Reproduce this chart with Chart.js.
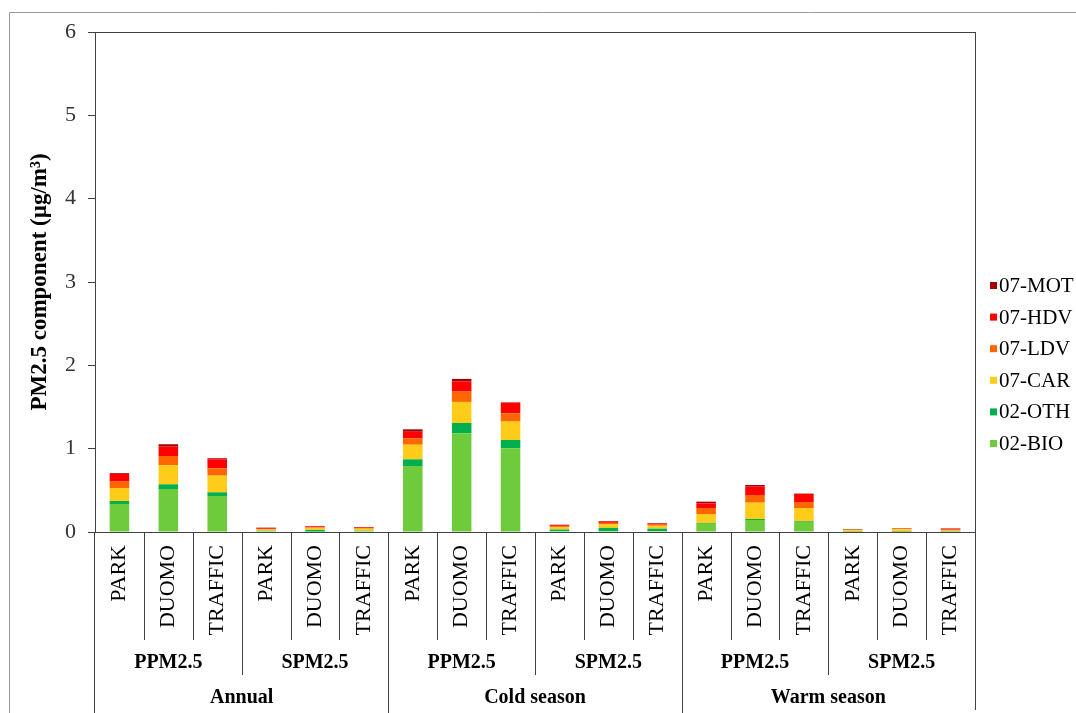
<!DOCTYPE html>
<html>
<head>
<meta charset="utf-8">
<title>PM2.5 component</title>
<script src="https://cdn.jsdelivr.net/npm/chart.js@4.4.0/dist/chart.umd.min.js"></script>
<style>
  body { margin: 0; background: #fff; }
  canvas { display: block; }
</style>
</head>
<body>
<canvas id="grafico" width="1076" height="713"></canvas>
<script>
//DADOS
const sites = ["PARK", "DUOMO", "TRAFFIC", "PARK", "DUOMO", "TRAFFIC",
  "PARK", "DUOMO", "TRAFFIC", "PARK", "DUOMO", "TRAFFIC",
  "PARK", "DUOMO", "TRAFFIC", "PARK", "DUOMO", "TRAFFIC"];
const grupos = ["PPM2.5", "SPM2.5", "PPM2.5", "SPM2.5", "PPM2.5", "SPM2.5"];
const estacoes = ["Annual", "Cold season", "Warm season"];
const yTicks = [0, 1, 2, 3, 4, 5, 6];

const bio = [0.336, 0.516, 0.432, 0.010, 0.005, 0.010, 0.792, 1.185, 1.005, 0.010, 0.010, 0.010, 0.096, 0.144, 0.120, 0.003, 0.003, 0.003];
const oth = [0.036, 0.056, 0.044, 0.005, 0.020, 0.005, 0.080, 0.124, 0.100, 0.020, 0.040, 0.030, 0.008, 0.012, 0.008, 0.003, 0.005, 0.003];
const car = [0.156, 0.232, 0.200, 0.015, 0.025, 0.025, 0.175, 0.252, 0.220, 0.030, 0.045, 0.035, 0.112, 0.196, 0.160, 0.015, 0.025, 0.012];
const ldv = [0.076, 0.108, 0.089, 0.008, 0.008, 0.008, 0.077, 0.124, 0.100, 0.010, 0.015, 0.013, 0.072, 0.092, 0.072, 0.008, 0.008, 0.010];
const hdv = [0.092, 0.112, 0.108, 0.010, 0.010, 0.008, 0.079, 0.120, 0.127, 0.012, 0.015, 0.015, 0.056, 0.100, 0.096, 0.005, 0.005, 0.014];
const mot = [0.010, 0.029, 0.012, 0.004, 0.004, 0.004, 0.029, 0.032, 0.005, 0.005, 0.007, 0.005, 0.020, 0.020, 0.005, 0.002, 0.002, 0.002];

const series = [
  { label: "02-BIO", data: bio, cor: "#6dcb3c" },
  { label: "02-OTH", data: oth, cor: "#00b050" },
  { label: "07-CAR", data: car, cor: "#ffcc1a" },
  { label: "07-LDV", data: ldv, cor: "#ff6600" },
  { label: "07-HDV", data: hdv, cor: "#ff0000" },
  { label: "07-MOT", data: mot, cor: "#a50000" },
];

const serif = "'Liberation Serif', 'Times New Roman', serif";
const corEixo = "#404040";

//PLUGIN: moldura, separadores, rótulos de grupo e legenda
const extras = {
  id: "extras",
  afterDraw(chart) {
    const ctx = chart.ctx;
    const area = chart.chartArea;
    const x = chart.scales.x;
    const n = sites.length;
    const passo = (area.right - area.left) / n;
    const H = chart.height;

    ctx.save();
    // borda externa cinza
    ctx.strokeStyle = "#9a9a9a";
    ctx.lineWidth = 1;
    ctx.beginPath();
    ctx.moveTo(9.5, H);
    ctx.lineTo(9.5, 12.5);
    ctx.lineTo(chart.width, 12.5);
    ctx.stroke();

    // moldura do gráfico
    ctx.strokeStyle = corEixo;
    ctx.beginPath();
    ctx.moveTo(area.left, area.top + 0.5);
    ctx.lineTo(area.right, area.top + 0.5);
    ctx.moveTo(area.right + 0.5, area.top);
    ctx.lineTo(area.right + 0.5, H - 3);
    ctx.moveTo(area.left - 0.5, area.bottom);
    ctx.lineTo(area.left - 0.5, H);
    ctx.stroke();

    // separadores das categorias
    ctx.beginPath();
    for (let i = 1; i < n; i++) {
      const px = Math.round(x.getPixelForValue(i) - passo / 2) + 0.5;
      let fim = area.bottom + 108;
      if (i % 6 === 0) fim = H;
      else if (i % 3 === 0) fim = area.bottom + 143;
      ctx.moveTo(px, area.bottom);
      ctx.lineTo(px, fim);
    }
    ctx.stroke();

    // rótulos de grupo e estação
    ctx.fillStyle = "#000";
    ctx.textAlign = "center";
    ctx.textBaseline = "middle";
    ctx.font = "bold 20px " + serif;
    grupos.forEach((g, k) => {
      const cx = (x.getPixelForValue(k * 3) + x.getPixelForValue(k * 3 + 2)) / 2;
      ctx.fillText(g, cx, area.bottom + 131);
    });
    estacoes.forEach((e, k) => {
      const cx = (x.getPixelForValue(k * 6) + x.getPixelForValue(k * 6 + 5)) / 2;
      ctx.fillText(e, cx, area.bottom + 166);
    });

    // legenda (ordem inversa)
    ctx.font = "21px " + serif;
    ctx.textAlign = "left";
    const ds = chart.data.datasets.slice().reverse();
    ds.forEach((d, k) => {
      const cy = 285.5 + k * 31.6;
      ctx.fillStyle = d.backgroundColor;
      ctx.fillRect(990, cy - 3.5, 7, 7);
      ctx.fillStyle = "#000";
      ctx.fillText(d.label, 999, cy + 1);
    });
    ctx.restore();
  },
};

//GRÁFICO
const ctxGrafico = document.getElementById("grafico");
const grafico = new Chart(ctxGrafico, {
  type: "bar",
  data: {
    labels: sites,
    datasets: series.map((s) => ({
      label: s.label,
      data: s.data,
      backgroundColor: s.cor,
      borderWidth: 0,
      barPercentage: 0.4,
      categoryPercentage: 1,
    })),
  },
  options: {
    responsive: false,
    animation: false,
    layout: { padding: { left: 10, top: 32, right: 101, bottom: 0 } },
    plugins: {
      legend: { display: false },
      tooltip: { enabled: false },
    },
    scales: {
      x: {
        stacked: true,
        grid: { display: false, drawTicks: false },
        border: { display: true, color: corEixo },
        ticks: {
          autoSkip: false,
          minRotation: 90,
          maxRotation: 90,
          padding: 13,
          color: "#000",
          font: { family: serif, size: 22 },
        },
        afterFit: (scale) => { scale.height = 181; },
      },
      y: {
        stacked: true,
        min: 0,
        max: 6,
        afterBuildTicks: (scale) => { scale.ticks = yTicks.map((v) => ({ value: v })); },
        grid: { drawOnChartArea: false, drawTicks: true, tickLength: 7, color: corEixo },
        border: { display: true, color: corEixo },
        ticks: {
          padding: 12,
          color: "#333",
          font: { family: serif, size: 22 },
        },
        title: {
          display: true,
          text: "PM2.5 component (µg/m³)",
          color: "#000",
          padding: { top: 16, bottom: 0 },
          font: { family: serif, size: 23, weight: "bold" },
        },
        afterFit: (scale) => { scale.width = 85; },
      },
    },
  },
  plugins: [extras],
});
</script>
</body>
</html>
